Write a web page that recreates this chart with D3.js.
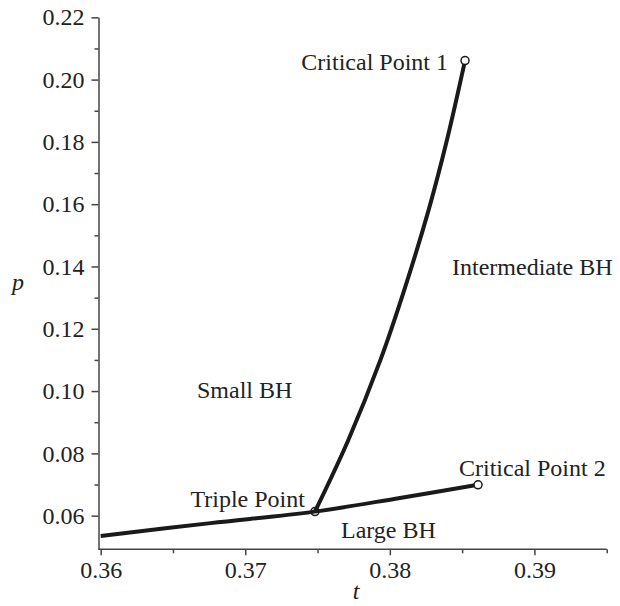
<!DOCTYPE html>
<html>
<head>
<meta charset="utf-8">
<script src="https://cdn.jsdelivr.net/npm/d3@7"></script>
<style>
  html, body { margin: 0; padding: 0; background: #fff; }
  svg { display: block; }
  text { font-family: "Liberation Serif", "Times New Roman", serif; fill: #222; }
</style>
</head>
<body>
<svg id="chart" width="620" height="606"></svg>
<script>
// Coexistence curve: small BH / large BH (from t = 0.36 up to critical point 2)
const lowerT = [0.3600, 0.3676, 0.3748, 0.3807, 0.3861];
const lowerP = [0.0535, 0.0576, 0.0613, 0.0657, 0.0699];
// Coexistence curve: small BH / intermediate BH (triple point up to critical point 1)
const upperT = [0.37482, 0.37713, 0.37935, 0.38100, 0.38268, 0.38395, 0.38520];
const upperP = [0.0613, 0.0843, 0.1100, 0.1325, 0.1581, 0.1806, 0.2061];
// Special points
const pointNames = ["Triple Point", "Critical Point 1", "Critical Point 2"];
const pointT = [0.37482, 0.38520, 0.3861];
const pointP = [0.0613, 0.2061, 0.0699];
// Region labels (left edge of text)
const regionNames = ["Small BH", "Intermediate BH", "Large BH"];
const regionT = [0.36666, 0.38430, 0.37662];
const regionP = [0.09778, 0.13727, 0.05274];
// Axis ticks
const xTicks = [0.36, 0.37, 0.38, 0.39];
const xMinorTicks = [0.365, 0.375, 0.385, 0.395];
const yTicks = [0.06, 0.08, 0.10, 0.12, 0.14, 0.16, 0.18, 0.20, 0.22];
const yMinorTicks = [0.07, 0.09, 0.11, 0.13, 0.15, 0.17, 0.19, 0.21];
const xDomain = [0.36, 0.395];
const yDomain = [0.0492, 0.22];

const svg = d3.select("#chart");
const x = d3.scaleLinear().domain(xDomain).range([100.7, 606.7]);
const y = d3.scaleLinear().domain(yDomain).range([549.3, 17.3]);
const axisColor = "#444";
const yAxisX = 98.5;
const fs = 24;

// X axis
const gx = svg.append("g").attr("transform", `translate(0,${y(yDomain[0])})`);
gx.call(d3.axisBottom(x).tickValues(xTicks).tickFormat(d3.format(".2f")).tickSize(6).tickPadding(6).tickSizeOuter(0));
gx.append("g").call(d3.axisBottom(x).tickValues(xMinorTicks).tickFormat("").tickSize(4).tickSizeOuter(0))
  .select(".domain").remove();
gx.select(".domain").attr("d", `M${yAxisX},0H${x(xDomain[1])}`);
gx.selectAll("path, line").attr("stroke", axisColor).attr("stroke-width", 1.5);
gx.selectAll("text").attr("font-size", fs).attr("fill", "#222");

// Y axis
const gy = svg.append("g").attr("transform", `translate(${yAxisX},0)`);
gy.call(d3.axisLeft(y).tickValues(yTicks).tickFormat(d3.format(".2f")).tickSize(7).tickPadding(7).tickSizeOuter(0));
gy.append("g").call(d3.axisLeft(y).tickValues(yMinorTicks).tickFormat("").tickSize(4).tickSizeOuter(0))
  .select(".domain").remove();
gy.selectAll("path, line").attr("stroke", axisColor).attr("stroke-width", 1.5);
gy.selectAll("text").attr("font-size", fs).attr("fill", "#222");

// Axis titles
svg.append("text").attr("x", 356).attr("y", 599).attr("text-anchor", "middle")
  .attr("font-size", fs).attr("font-style", "italic").text("t");
svg.append("text").attr("x", 18).attr("y", 290).attr("text-anchor", "middle")
  .attr("font-size", fs).attr("font-style", "italic").text("p");

// Curves
const line = d3.line().x(d => x(d[0])).y(d => y(d[1])).curve(d3.curveCatmullRom);
svg.append("path").datum(lowerT.map((t, i) => [t, lowerP[i]]))
  .attr("d", line).attr("fill", "none").attr("stroke", "#1a1a1a").attr("stroke-width", 4);
svg.append("path").datum(upperT.map((t, i) => [t, upperP[i]]))
  .attr("d", line).attr("fill", "none").attr("stroke", "#1a1a1a").attr("stroke-width", 4);

// Points
svg.selectAll("circle.pt").data(pointT.map((t, i) => ({t, p: pointP[i], name: pointNames[i]})))
  .join("circle").attr("class", "pt")
  .attr("cx", d => x(d.t)).attr("cy", d => y(d.p)).attr("r", 4)
  .attr("fill", d => d.name === "Triple Point" ? "none" : "#fff")
  .attr("stroke", "#1a1a1a").attr("stroke-width", 1.5);

// Point labels
const ptLabelOffsets = {"Triple Point": [-10, -5, "end"], "Critical Point 1": [-17, 9, "end"], "Critical Point 2": [-19, -9, "start"]};
pointNames.forEach((n, i) => {
  const o = ptLabelOffsets[n];
  svg.append("text").attr("x", x(pointT[i]) + o[0]).attr("y", y(pointP[i]) + o[1])
    .attr("text-anchor", o[2]).attr("font-size", fs).text(n);
});

// Region labels
regionNames.forEach((n, i) => {
  svg.append("text").attr("x", x(regionT[i])).attr("y", y(regionP[i]))
    .attr("text-anchor", "start").attr("font-size", fs).text(n);
});
</script>
</body>
</html>
